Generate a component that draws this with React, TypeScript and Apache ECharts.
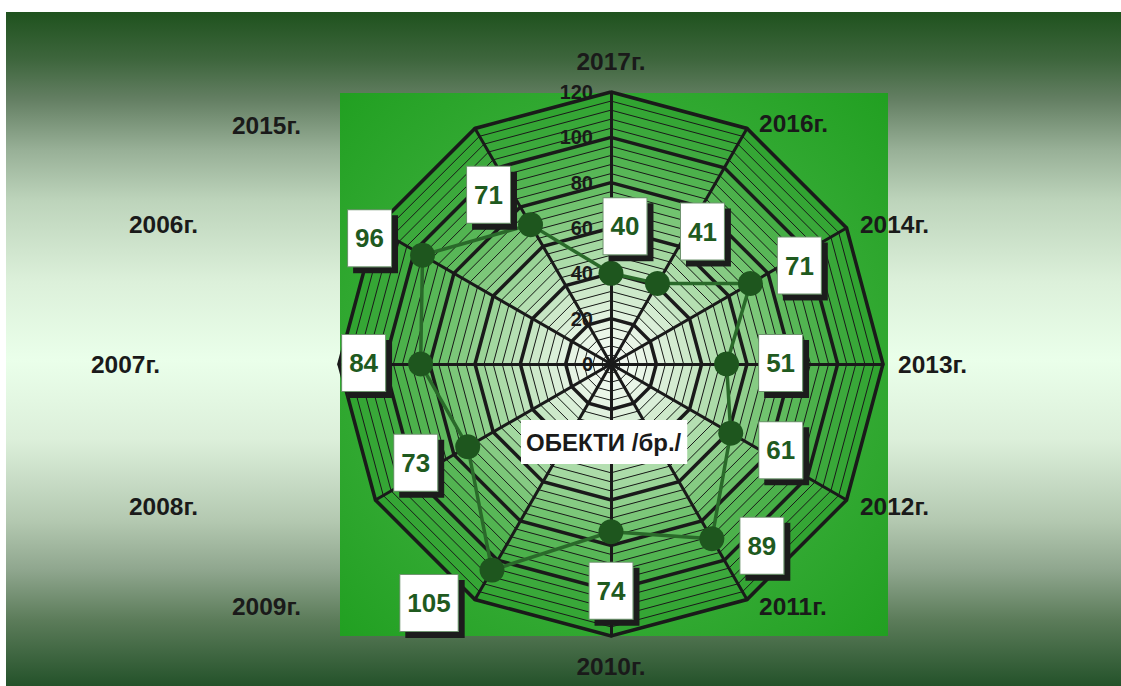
import React, { useEffect, useRef } from 'react';
import * as echarts from 'echarts';

// Categories in radar order (ECharts radar runs counter-clockwise from the top)
const categories = ['2017г.', '2015г.', '2006г.', '2007г.', '2008г.', '2009г.', '2010г.', '2011г.', '2012г.', '2013г.', '2014г.', '2016г.'];
const values = [40, 71, 96, 84, 73, 105, 74, 89, 61, 51, 71, 41];
const axisMin = 0;
const axisMax = 120;
const majorSplits = 6;
const minorSplits = 30;
const centerLabel = 'ОБЕКТИ /бр./';

// styling / placement (not data)
const CX = 611;
const CY = 364;
const R = 272;
const labelDX = [14, -42, -53, -57, -52, -63, 0, 50, 50, 54, 49, 45];
const labelDY = [-47, -30, -17, -1, 16, 33, 59, 7, 17, -1, -18, -52];
// axis-name fine shifts (px) per indicator
const nameDX = [0, 2, 3, 3, 3, 2, 0, 6, 3, 3, 3, 6];
const nameDY = [-6, 7, 2, 0, 0, -3, 6, -3, 0, 0, 2, 5];
const LEFT_PAD = 170;
const FONT = '"Liberation Sans", Arial, sans-serif';

const ringStops: [number, string][] = [
  [0, '#f8fcf7'],
  [20, '#e4f3e2'],
  [40, '#c3e5c0'],
  [60, '#95d292'],
  [80, '#62bc60'],
  [100, '#42ac42'],
  [120, '#2fa32f'],
];
function hex(h: string) {
  return [parseInt(h.slice(1, 3), 16), parseInt(h.slice(3, 5), 16), parseInt(h.slice(5, 7), 16)];
}
function ringColor(v: number) {
  for (let i = 1; i < ringStops.length; i++) {
    if (v <= ringStops[i][0]) {
      const [v0, c0] = ringStops[i - 1];
      const [v1, c1] = ringStops[i];
      const t = (v - v0) / (v1 - v0);
      const a = hex(c0), b = hex(c1);
      return `rgb(${a.map((x, k) => Math.round(x + (b[k] - x) * t)).join(',')})`;
    }
  }
  return ringStops[ringStops.length - 1][1];
}
const ringColors = Array.from({ length: minorSplits }, (_, i) => ringColor(((i + 0.5) * axisMax) / minorSplits));

function namePadding(i: number): number[] {
  const n = categories.length;
  const dx = nameDX[i];
  const dy = nameDY[i];
  let top = 0, right = 0, bottom = 0, left = 0;
  if (i === 0) {
    if (dy < 0) bottom = -dy; else top = dy;
  } else if (i === n / 2) {
    if (dy > 0) top = dy; else bottom = -dy;
  } else {
    if (dy > 0) top = 2 * dy; else bottom = -2 * dy;
    if (i < n / 2) right = LEFT_PAD - dx; // right-aligned names on the left side
    else left = dx;
  }
  return [top, right, bottom, left];
}

export default function App() {
  const ref = useRef<HTMLDivElement>(null);
  useEffect(() => {
    const chart = echarts.init(ref.current!, null, { renderer: 'svg' });
    const thinIndicator = categories.map((name) => ({ name, min: axisMin, max: axisMax }));
    const thickIndicator = categories.map((name, i) => ({
      name,
      min: axisMin,
      max: axisMax,
      ...(i === 0 ? { axisLabel: { show: true } } : {}),
    }));
    const nameStyle = { fontSize: 24.5, fontWeight: 'bold', color: '#1a1a1a', fontFamily: FONT };
    const rich: any = {};
    categories.forEach((_, i) => {
      rich['n' + i] = { ...nameStyle, padding: namePadding(i) };
    });
    const option: any = {
      animation: false,
      textStyle: { fontFamily: FONT },
      title: {
        text: centerLabel,
        left: 521,
        top: 420,
        backgroundColor: '#ffffff',
        padding: [10, 6, 10, 5],
        textStyle: { fontSize: 24, fontWeight: 'bold', color: '#1a1a1a', fontFamily: FONT },
      },
      graphic: {
        elements: [
          {
            type: 'rect',
            z: -10,
            silent: true,
            shape: { x: 6, y: 12, width: 1115, height: 674 },
            style: {
              fill: new echarts.graphic.LinearGradient(0, 0, 0, 1, [
                { offset: 0, color: '#1f521e' },
                { offset: 0.071, color: '#3e663d' },
                { offset: 0.13, color: '#647f63' },
                { offset: 0.205, color: '#98b097' },
                { offset: 0.28, color: '#bdd4bb' },
                { offset: 0.4, color: '#dcf0da' },
                { offset: 0.516, color: '#eaffea' },
                { offset: 0.635, color: '#dcefda' },
                { offset: 0.754, color: '#b4c9b1' },
                { offset: 0.828, color: '#8fa68e' },
                { offset: 0.902, color: '#5c7c5a' },
                { offset: 1, color: '#24522a' },
              ]),
            },
          },
          {
            type: 'rect',
            z: -9,
            silent: true,
            shape: { x: 340, y: 93, width: 548, height: 543 },
            style: {
              fill: new echarts.graphic.RadialGradient(0.5, 0.5, 0.75, [
                { offset: 0, color: '#52ba52' },
                { offset: 0.55, color: '#36ab36' },
                { offset: 1, color: '#1e9e1e' },
              ]),
            },
          },
        ],
      },
      radar: [
        {
          center: [CX, CY],
          radius: R,
          startAngle: 90,
          shape: 'polygon',
          splitNumber: minorSplits,
          indicator: thinIndicator,
          axisName: { show: false },
          axisLine: { show: false },
          axisTick: { show: false },
          axisLabel: { show: false },
          splitLine: { lineStyle: { color: '#1a1a1a', width: 1 } },
          splitArea: { show: true, areaStyle: { color: ringColors } },
        },
        {
          center: [CX, CY],
          radius: R,
          startAngle: 90,
          shape: 'polygon',
          splitNumber: majorSplits,
          indicator: thickIndicator,
          nameGap: 12,
          axisName: {
            show: true,
            ...nameStyle,
            formatter: (name: string) => `{n${categories.indexOf(name)}|${name}}`,
            rich,
          },
          axisLine: { show: true, lineStyle: { color: '#1a1a1a', width: 3 } },
          axisTick: { show: false },
          axisLabel: { show: false, color: '#1a1a1a', fontSize: 20, fontWeight: 'bold', fontFamily: FONT, margin: 18 },
          splitLine: { lineStyle: { color: '#1a1a1a', width: 3.5 } },
          splitArea: { show: false },
        },
      ],
      series: [
        {
          type: 'radar',
          radarIndex: 1,
          symbol: 'circle',
          symbolSize: 25,
          itemStyle: { color: '#1e561e' },
          lineStyle: { color: '#2a6a2a', width: 3.5 },
          data: [{ value: values, name: centerLabel }],
          label: {
            show: true,
            position: 'inside',
            color: '#1f5a1f',
            fontFamily: FONT,
            fontSize: 26,
            fontWeight: 'bold',
            lineHeight: 26,
            backgroundColor: '#ffffff',
            borderColor: '#6f956f',
            borderWidth: 1,
            padding: [15, 7, 15, 7],
            shadowColor: '#1a1a1a',
            shadowOffsetX: 6,
            shadowOffsetY: 6,
            shadowBlur: 0,
          },
          labelLayout: (p: any) => {
            const r = p.rect;
            const cx = r.x + r.width / 2;
            const cy = r.y + r.height / 2;
            let ang = (Math.atan2(cx - CX, CY - cy) * 180) / Math.PI;
            if (ang < 0) ang += 360;
            const idx = Math.round(((360 - ang) % 360) / (360 / categories.length)) % categories.length;
            return { dx: labelDX[idx], dy: labelDY[idx] };
          },
        },
      ],
    };
    chart.setOption(option);
    return () => chart.dispose();
  }, []);
  return (
    <div
      ref={ref}
      style={{ position: 'fixed', left: 0, top: 0, width: 1121, height: 686, background: '#ffffff' }}
    />
  );
}
